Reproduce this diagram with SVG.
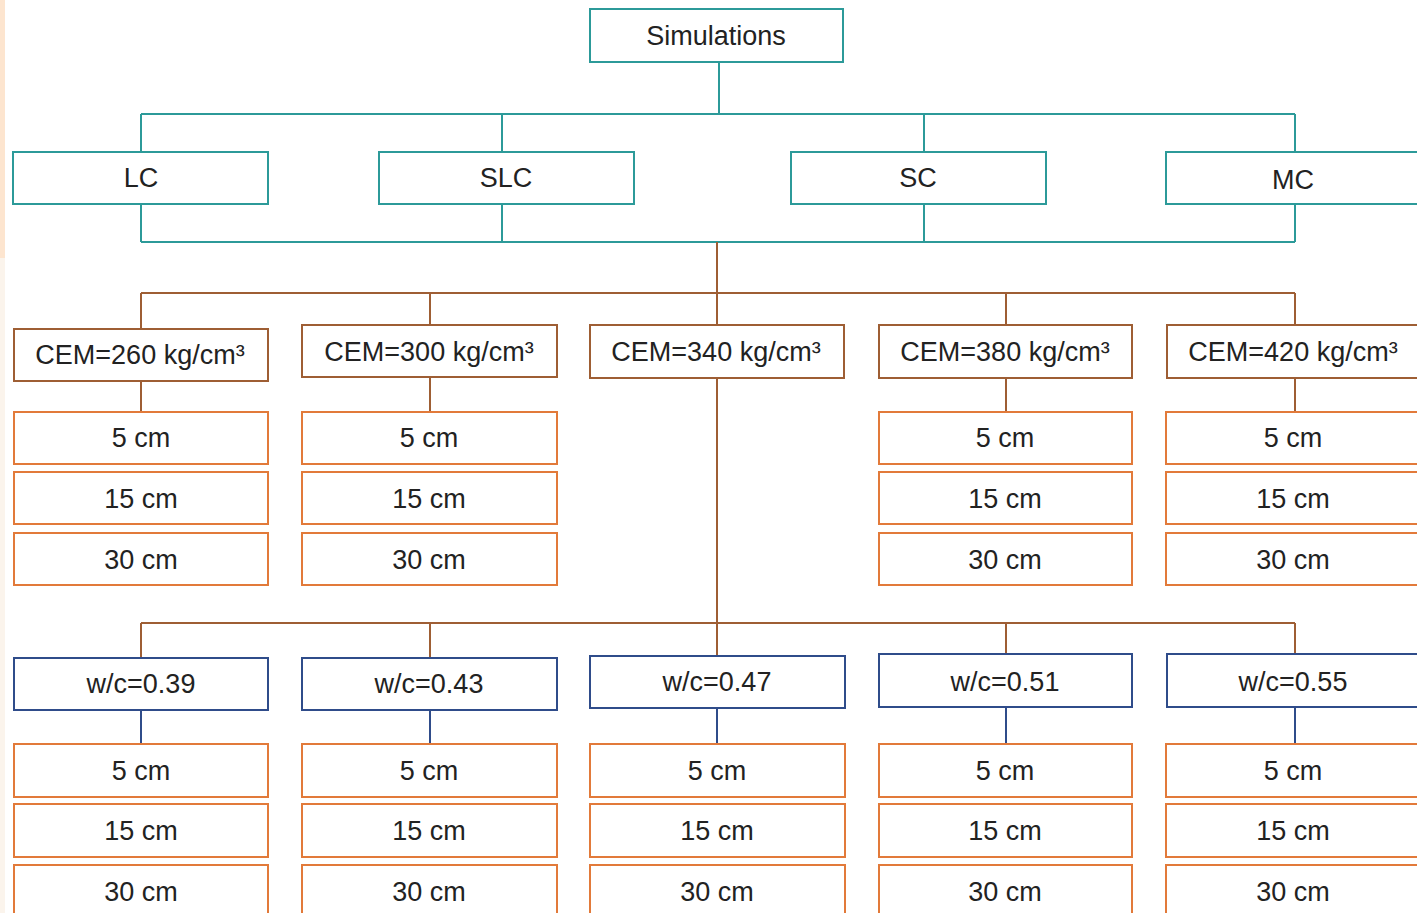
<svg xmlns="http://www.w3.org/2000/svg" width="1417" height="913" viewBox="0 0 1417 913">
<style>
text{font-family:"Liberation Sans",Arial,sans-serif;font-size:27px;fill:#222;text-anchor:middle}
rect{fill:#fff;stroke-width:2}
.t{stroke:#2C9A99}
.b{stroke:#9E5E34}
.o{stroke:#E27A3A}
.n{stroke:#2F4C8A}
.c{fill:none;stroke-width:2}
</style>
<rect x="0" y="0" width="1417" height="913" style="fill:#fff;stroke:none"/>
<rect x="0" y="0" width="5" height="913" style="fill:#FBF4EC;stroke:none"/>
<rect x="0" y="0" width="5" height="258" style="fill:#FDE5CF;stroke:none"/>
<g id="connectors">
<path class="c t" d="M719 62V114M141 114H1295M141 114V152M502 114V152M924 114V152M1295 114V152M141 204V242M502 204V242M924 204V242M1295 204V242M141 242H1295"/>
<path class="c b" d="M717 242V293M141 293H1295M141 293V329M430 293V325M717 293V325M1006 293V325M1295 293V325M141 381V412M430 377V412M1006 378V412M1295 378V412M717 378V656M141 623H1295M141 623V658M430 623V658M1006 623V654M1295 623V654"/>
<path class="c n" d="M141 710V744M430 710V744M717 708V744M1006 707V744M1295 707V744"/>
</g>
<g id="sim"><rect class="t" x="590" y="9" width="253" height="53"/><text x="716" y="45">Simulations</text></g>
<g id="lc"><rect class="t" x="13" y="152" width="255" height="52"/><text x="141" y="187">LC</text></g>
<g id="slc"><rect class="t" x="379" y="152" width="255" height="52"/><text x="506" y="187">SLC</text></g>
<g id="sc"><rect class="t" x="791" y="152" width="255" height="52"/><text x="918" y="187">SC</text></g>
<g id="mc"><rect class="t" x="1166" y="152" width="260" height="52"/><text x="1293" y="189">MC</text></g>

<g id="cem260"><rect class="b" x="14" y="329" width="254" height="52"/><text x="140" y="364">CEM=260 kg/cm³</text></g>
<g id="cem300"><rect class="b" x="302" y="325" width="255" height="52"/><text x="429" y="361">CEM=300 kg/cm³</text></g>
<g id="cem340"><rect class="b" x="590" y="325" width="254" height="53"/><text x="716" y="361">CEM=340 kg/cm³</text></g>
<g id="cem380"><rect class="b" x="879" y="325" width="253" height="53"/><text x="1005" y="361">CEM=380 kg/cm³</text></g>
<g id="cem420"><rect class="b" x="1167" y="325" width="260" height="53"/><text x="1293" y="361">CEM=420 kg/cm³</text></g>

<g id="c1a"><rect class="o" x="14" y="412" width="254" height="52"/><text x="141" y="447">5 cm</text></g>
<g id="c1b"><rect class="o" x="14" y="472" width="254" height="52"/><text x="141" y="508">15 cm</text></g>
<g id="c1c"><rect class="o" x="14" y="533" width="254" height="52"/><text x="141" y="569">30 cm</text></g>
<g id="c2a"><rect class="o" x="302" y="412" width="255" height="52"/><text x="429" y="447">5 cm</text></g>
<g id="c2b"><rect class="o" x="302" y="472" width="255" height="52"/><text x="429" y="508">15 cm</text></g>
<g id="c2c"><rect class="o" x="302" y="533" width="255" height="52"/><text x="429" y="569">30 cm</text></g>
<g id="c4a"><rect class="o" x="879" y="412" width="253" height="52"/><text x="1005" y="447">5 cm</text></g>
<g id="c4b"><rect class="o" x="879" y="472" width="253" height="52"/><text x="1005" y="508">15 cm</text></g>
<g id="c4c"><rect class="o" x="879" y="533" width="253" height="52"/><text x="1005" y="569">30 cm</text></g>
<g id="c5a"><rect class="o" x="1166" y="412" width="260" height="52"/><text x="1293" y="447">5 cm</text></g>
<g id="c5b"><rect class="o" x="1166" y="472" width="260" height="52"/><text x="1293" y="508">15 cm</text></g>
<g id="c5c"><rect class="o" x="1166" y="533" width="260" height="52"/><text x="1293" y="569">30 cm</text></g>

<g id="wc39"><rect class="n" x="14" y="658" width="254" height="52"/><text x="141" y="693">w/c=0.39</text></g>
<g id="wc43"><rect class="n" x="302" y="658" width="255" height="52"/><text x="429" y="693">w/c=0.43</text></g>
<g id="wc47"><rect class="n" x="590" y="656" width="255" height="52"/><text x="717" y="691">w/c=0.47</text></g>
<g id="wc51"><rect class="n" x="879" y="654" width="253" height="53"/><text x="1005" y="691">w/c=0.51</text></g>
<g id="wc55"><rect class="n" x="1167" y="654" width="260" height="53"/><text x="1293" y="691">w/c=0.55</text></g>

<g id="d1a"><rect class="o" x="14" y="744" width="254" height="53"/><text x="141" y="780">5 cm</text></g>
<g id="d1b"><rect class="o" x="14" y="804" width="254" height="53"/><text x="141" y="840">15 cm</text></g>
<g id="d1c"><rect class="o" x="14" y="865" width="254" height="60"/><text x="141" y="901">30 cm</text></g>
<g id="d2a"><rect class="o" x="302" y="744" width="255" height="53"/><text x="429" y="780">5 cm</text></g>
<g id="d2b"><rect class="o" x="302" y="804" width="255" height="53"/><text x="429" y="840">15 cm</text></g>
<g id="d2c"><rect class="o" x="302" y="865" width="255" height="60"/><text x="429" y="901">30 cm</text></g>
<g id="d3a"><rect class="o" x="590" y="744" width="255" height="53"/><text x="717" y="780">5 cm</text></g>
<g id="d3b"><rect class="o" x="590" y="804" width="255" height="53"/><text x="717" y="840">15 cm</text></g>
<g id="d3c"><rect class="o" x="590" y="865" width="255" height="60"/><text x="717" y="901">30 cm</text></g>
<g id="d4a"><rect class="o" x="879" y="744" width="253" height="53"/><text x="1005" y="780">5 cm</text></g>
<g id="d4b"><rect class="o" x="879" y="804" width="253" height="53"/><text x="1005" y="840">15 cm</text></g>
<g id="d4c"><rect class="o" x="879" y="865" width="253" height="60"/><text x="1005" y="901">30 cm</text></g>
<g id="d5a"><rect class="o" x="1166" y="744" width="260" height="53"/><text x="1293" y="780">5 cm</text></g>
<g id="d5b"><rect class="o" x="1166" y="804" width="260" height="53"/><text x="1293" y="840">15 cm</text></g>
<g id="d5c"><rect class="o" x="1166" y="865" width="260" height="60"/><text x="1293" y="901">30 cm</text></g>
</svg>
